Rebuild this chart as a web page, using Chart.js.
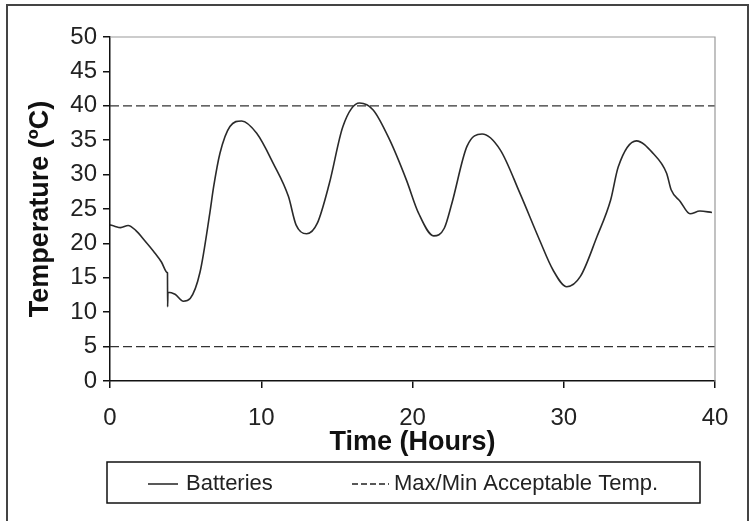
<!DOCTYPE html>
<html>
<head>
<meta charset="utf-8">
<script src="https://cdn.jsdelivr.net/npm/chart.js@4.4.0/dist/chart.umd.min.js"></script>
<style>
  html, body { margin: 0; padding: 0; background: #fff; }
</style>
</head>
<body>
<canvas id="tempChart" width="752" height="521"></canvas>
<script>
// battery temperature trace
const hours = [0, 0.3, 0.7, 1.2, 1.7, 2.3, 2.9, 3.4, 3.79, 3.8, 3.81, 3.83, 4.3, 4.85, 5.3, 5.95, 6.6, 6.85, 7.27, 7.93, 8.7, 9.7, 10.8, 11.8, 12.3, 13.0, 13.7, 14.5, 15.4, 16.5, 17.4, 18.5, 19.6, 20.4, 21.4, 22.1, 22.6, 23.6, 24.6, 25.8, 27.1, 28.4, 29.3, 30.2, 31.1, 32.2, 33.1, 33.6, 34.8, 35.9, 36.8, 37.1, 37.7, 38.35, 39.0, 39.8];
const batteryTemps = [22.7, 22.5, 22.3, 22.6, 21.9, 20.4, 18.8, 17.3, 15.75, 15.7, 10.8, 12.9, 12.6, 11.6, 12.0, 15.8, 24.4, 28.2, 33.1, 37.0, 37.8, 36.0, 31.6, 26.8, 22.7, 21.4, 22.9, 28.7, 37.0, 40.4, 39.4, 35.0, 29.2, 24.4, 21.1, 22.2, 25.8, 34.1, 35.9, 33.6, 27.3, 20.5, 16.1, 13.7, 15.2, 21.0, 26.3, 31.1, 34.9, 33.1, 30.2, 27.8, 26.1, 24.3, 24.7, 24.5];

// acceptable limits
const limitHours = [0, 40];
const maxTemp = [40, 40];
const minTemp = [5, 5];

const xTicks = [0, 10, 20, 30, 40];
const yTicks = [0, 5, 10, 15, 20, 25, 30, 35, 40, 45, 50];
const legendLabels = ["Batteries", "Max/Min Acceptable Temp."];

const FONT = "'Liberation Sans', Arial, sans-serif";
const INK = "#222";

const toPoints = (xs, ys) => xs.map((x, i) => ({ x: x, y: ys[i] }));

/* frame, top/right plot border and the boxed legend */
const decorPlugin = {
  id: "decor",
  afterDraw(chart) {
    const { ctx, chartArea } = chart;
    ctx.save();

    // outer frame
    ctx.strokeStyle = "#444";
    ctx.lineWidth = 2;
    ctx.strokeRect(7, 5, 741, 540);

    // light top/right border of plot area
    ctx.strokeStyle = "#999";
    ctx.lineWidth = 1.2;
    ctx.beginPath();
    ctx.moveTo(chartArea.left, chartArea.top);
    ctx.lineTo(chartArea.right, chartArea.top);
    ctx.lineTo(chartArea.right, chartArea.bottom);
    ctx.stroke();

    // legend box
    ctx.strokeStyle = "#111";
    ctx.lineWidth = 1.5;
    ctx.strokeRect(107, 462, 593, 41);

    const ly = 484;
    ctx.strokeStyle = "#222";
    ctx.lineWidth = 1.5;
    ctx.beginPath();
    ctx.moveTo(148, ly);
    ctx.lineTo(178, ly);
    ctx.stroke();

    ctx.setLineDash([6, 3]);
    ctx.lineWidth = 1.3;
    ctx.beginPath();
    ctx.moveTo(352, ly);
    ctx.lineTo(389, ly);
    ctx.stroke();
    ctx.setLineDash([]);

    ctx.font = "22px " + FONT;
    ctx.fillStyle = INK;
    ctx.textBaseline = "middle";
    ctx.textAlign = "left";
    ctx.fillText(legendLabels[0], 186, ly);
    ctx.fillText(legendLabels[1], 394, ly);

    ctx.restore();
  }
};

new Chart(document.getElementById("tempChart"), {
  type: "line",
  data: {
    datasets: [
      {
        label: legendLabels[0],
        data: toPoints(hours, batteryTemps),
        borderColor: "#2a2a2a",
        borderWidth: 1.6,
        pointRadius: 0,
        cubicInterpolationMode: "monotone"
      },
      {
        label: legendLabels[1],
        data: toPoints(limitHours, maxTemp),
        borderColor: "#333",
        borderWidth: 1.3,
        borderDash: [9, 4],
        pointRadius: 0
      },
      {
        label: legendLabels[1],
        data: toPoints(limitHours, minTemp),
        borderColor: "#333",
        borderWidth: 1.3,
        borderDash: [9, 4],
        pointRadius: 0
      }
    ]
  },
  options: {
    responsive: false,
    animation: false,
    layout: { padding: { left: 0, top: 37, right: 37, bottom: 0 } },
    plugins: {
      legend: { display: false },
      tooltip: { enabled: false }
    },
    scales: {
      x: {
        type: "linear",
        min: 0,
        max: 40,
        afterBuildTicks: (scale) => { scale.ticks = xTicks.map(v => ({ value: v })); },
        afterFit: (scale) => { scale.height = 140; },
        grid: {
          drawOnChartArea: false,
          drawTicks: true,
          tickLength: 7,
          color: "#111",
          lineWidth: 1.5
        },
        border: { display: true, color: "#111", width: 1.5 },
        ticks: {
          font: { family: FONT, size: 24 },
          color: INK,
          padding: 16,
          maxRotation: 0,
          autoSkip: false
        },
        title: {
          display: true,
          text: "Time (Hours)",
          font: { family: FONT, size: 27, weight: "bold" },
          color: "#111",
          padding: { top: 0, bottom: 62 }
        }
      },
      y: {
        min: 0,
        max: 50,
        afterBuildTicks: (scale) => { scale.ticks = yTicks.map(v => ({ value: v })); },
        afterFit: (scale) => { scale.width = 110; },
        grid: {
          drawOnChartArea: false,
          drawTicks: true,
          tickLength: 7,
          color: "#111",
          lineWidth: 1.5
        },
        border: { display: true, color: "#111", width: 1.5 },
        ticks: {
          font: { family: FONT, size: 24 },
          color: INK,
          padding: 6,
          autoSkip: false
        },
        title: {
          display: true,
          text: "Temperature (\u00BAC)",
          font: { family: FONT, size: 27, weight: "bold" },
          color: "#111",
          padding: { top: 24, bottom: 0 }
        }
      }
    }
  },
  plugins: [decorPlugin]
});
</script>
</body>
</html>
